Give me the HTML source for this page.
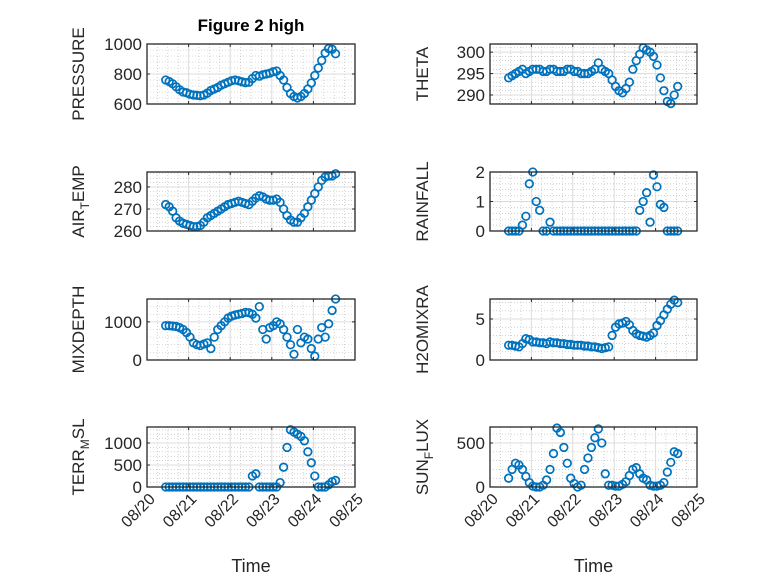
<!DOCTYPE html>
<html><head><meta charset="utf-8"><style>
body{margin:0;background:#fff;}
svg{display:block;font-family:"Liberation Sans",sans-serif;}
</style></head><body>
<svg id="fig" width="778" height="583" viewBox="0 0 778 583">
<rect width="778" height="583" fill="#fff"/>
<text x="251" y="31" text-anchor="middle" font-size="17" font-weight="bold" fill="#000">Figure 2 high</text>
</svg>
<script>
const pressure=[760,750,735,715,695,680,675,665,660,658,655,660,672,690,700,710,725,735,745,755,760,755,748,742,745,770,790,785,795,800,805,815,820,790,760,710,670,650,640,650,670,700,740,790,840,890,940,970,965,935];
const airTemp=[272,271,269,266,264.5,263.5,263,262.5,262,262,262.5,264,266,267,268,269,270,271,272,272.5,273,273.5,273,272.5,272,273.5,275,276,275.5,274.5,274,274,274.5,273,270,267,265,264,264,266,268,271,274,277,280,283,284.5,285,285,286];
const mixDepth=[900,900,890,880,850,800,720,600,450,400,380,420,450,300,600,800,900,1000,1100,1150,1180,1200,1220,1250,1240,1200,1100,1400,800,550,850,900,1000,950,800,600,400,150,800,450,600,550,300,100,550,850,600,950,1300,1600];
const terrMsl=[0,0,0,0,0,0,0,0,0,0,0,0,0,0,0,0,0,0,0,0,0,0,0,0,0,250,300,0,0,0,0,0,0,100,450,900,1300,1250,1200,1150,1050,800,550,250,0,0,0,50,120,150];
const theta=[294,294.5,295,295.5,296,295,295.5,296,296,296,295.5,295.5,296,296,295.5,295.5,295.5,296,296,295.5,295.5,295,295,295,295.5,296,297.5,296,295.5,295,293.5,292,291,290.5,291.5,293,296,298,299.5,301,300.5,300,299,297,294,291,288.5,288,290,292];
const rainfall=[0,0,0,0,0.2,0.5,1.6,2.0,1.0,0.7,0,0,0.3,0,0,0,0,0,0,0,0,0,0,0,0,0,0,0,0,0,0,0,0,0,0,0,0,0,0.7,1.0,1.3,0.3,1.9,1.5,0.9,0.8,0,0,0,0];
const h2oMix=[1.8,1.8,1.7,1.6,2.0,2.6,2.5,2.2,2.2,2.1,2.1,2.0,2.2,2.1,2.1,2.0,2.0,1.9,1.9,1.8,1.8,1.8,1.7,1.7,1.6,1.6,1.5,1.4,1.5,1.6,3.0,4.0,4.4,4.5,4.7,4.3,3.6,3.2,3.0,2.9,2.8,3.0,3.3,4.2,4.8,5.5,6.2,6.8,7.3,7.0];
const sunFlux=[100,200,270,250,200,120,50,10,0,0,20,80,200,380,670,620,450,270,100,40,0,20,200,330,450,560,660,500,150,20,20,10,10,30,60,130,200,220,150,100,80,20,10,10,20,50,170,280,400,380];
const xTickLabels=["08/20","08/21","08/22","08/23","08/24","08/25"];
const startDay=0.45, stepDay=1/12;

const NS="http://www.w3.org/2000/svg";
const svg=document.getElementById('fig');
function mk(tag,attrs,parent){const e=document.createElementNS(NS,tag);for(const k in attrs)e.setAttribute(k,attrs[k]);(parent||svg).appendChild(e);return e;}

const panels=[
 {name:'pressure',data:pressure,col:0,row:0,ymin:600,ymax:1000,ticks:[600,800,1000],minor:40,label:['PRESSURE']},
 {name:'air-temp',data:airTemp,col:0,row:1,ymin:260,ymax:286.8,ticks:[260,270,280],minor:2,label:['AIR','T','EMP']},
 {name:'mixdepth',data:mixDepth,col:0,row:2,ymin:0,ymax:1600,ticks:[0,1000],minor:200,label:['MIXDEPTH']},
 {name:'terr-msl',data:terrMsl,col:0,row:3,ymin:0,ymax:1364,ticks:[0,500,1000],minor:100,label:['TERR','M','SL']},
 {name:'theta',data:theta,col:1,row:0,ymin:287.9,ymax:301.9,ticks:[290,295,300],minor:1,label:['THETA']},
 {name:'rainfall',data:rainfall,col:1,row:1,ymin:0,ymax:2,ticks:[0,1,2],minor:0.2,label:['RAINFALL']},
 {name:'h2omixra',data:h2oMix,col:1,row:2,ymin:0,ymax:7.44,ticks:[0,5],minor:1,label:['H2OMIXRA']},
 {name:'sun-flux',data:sunFlux,col:1,row:3,ymin:0,ymax:682,ticks:[0,500],minor:100,label:['SUN','F','LUX']}
];
const colX=[[147,355],[490,697]];
const rowY=[[44,104],[172,231],[299,360],[427,487]];

panels.forEach(p=>{
 const [x0,x1]=colX[p.col], [y0,y1]=rowY[p.row];
 const xs=d=>x0+(x1-x0)*d/5;
 const ys=v=>y1-(y1-y0)*(v-p.ymin)/(p.ymax-p.ymin);
 const g=mk('g',{});
 
 
 mk('rect',{x:x0,y:y0,width:x1-x0,height:y1-y0,fill:'#fff'},g);
 for(let d=0;d<=5;d+=0.25){if(Math.abs(d-Math.round(d))<1e-6)continue;
  mk('line',{x1:xs(d),x2:xs(d),y1:y0,y2:y1,stroke:'#b8b8b8','stroke-width':0.6,'stroke-dasharray':'1 2'},g);}
 for(let v=Math.ceil(p.ymin/p.minor)*p.minor;v<=p.ymax;v+=p.minor){
  if(p.ticks.some(t=>Math.abs(t-v)<1e-6))continue;
  mk('line',{x1:x0,x2:x1,y1:ys(v),y2:ys(v),stroke:'#b8b8b8','stroke-width':0.6,'stroke-dasharray':'1 2'},g);}
 for(let d=1;d<5;d++)mk('line',{x1:xs(d),x2:xs(d),y1:y0,y2:y1,stroke:'#dcdcdc','stroke-width':1},g);
 p.ticks.forEach(t=>{mk('line',{x1:x0,x2:x1,y1:ys(t),y2:ys(t),stroke:'#dcdcdc','stroke-width':1},g);});
 p.data.forEach((v,i)=>{
  const c=mk('circle',{cx:xs(startDay+i*stepDay),cy:ys(v),r:3.8,fill:'none',stroke:'#0072BD','stroke-width':1.7},g);
  
  
 });
 mk('rect',{x:x0,y:y0,width:x1-x0,height:y1-y0,fill:'none',stroke:'#262626','stroke-width':1.3},g);
 for(let d=0;d<=5;d++){
  mk('line',{x1:xs(d),x2:xs(d),y1:y1,y2:y1-3,stroke:'#262626'},g);
  mk('line',{x1:xs(d),x2:xs(d),y1:y0,y2:y0+3,stroke:'#262626'},g);}
 p.ticks.forEach(t=>{
  mk('line',{x1:x0,x2:x0+3,y1:ys(t),y2:ys(t),stroke:'#262626'},g);
  mk('line',{x1:x1,x2:x1-3,y1:ys(t),y2:ys(t),stroke:'#262626'},g);
  const tx=mk('text',{x:x0-5,y:ys(t)+6,'text-anchor':'end','font-size':17,fill:'#262626'},g);
  tx.textContent=String(t);
  
  
 });
 const lx=(p.col===0?84:428), ly=(y0+y1)/2;
 const lab=mk('text',{x:lx,y:ly,transform:`rotate(-90 ${lx} ${ly})`,'text-anchor':'middle','font-size':17,fill:'#262626'},g);
 
 
 if(p.label.length===1){lab.textContent=p.label[0];}
 else{
  const a=mk('tspan',{},lab);a.textContent=p.label[0];
  const b=mk('tspan',{dy:5,'font-size':12},lab);b.textContent=p.label[1];
  const c=mk('tspan',{dy:-5},lab);c.textContent=p.label[2];
 }
 if(p.row===3){
  xTickLabels.forEach((s,d)=>{
   const X=xs(d)+9,Y=y1+13;
   const t=mk('text',{x:X,y:Y,transform:`rotate(-45 ${X} ${Y})`,'text-anchor':'end','font-size':16,fill:'#262626'},g);
   t.textContent=s;
   
   
  });
  const xl=mk('text',{x:(x0+x1)/2,y:572,'text-anchor':'middle','font-size':18,fill:'#262626'},g);
  xl.textContent='Time';
  
  
 }
});
</script>
</body></html>
